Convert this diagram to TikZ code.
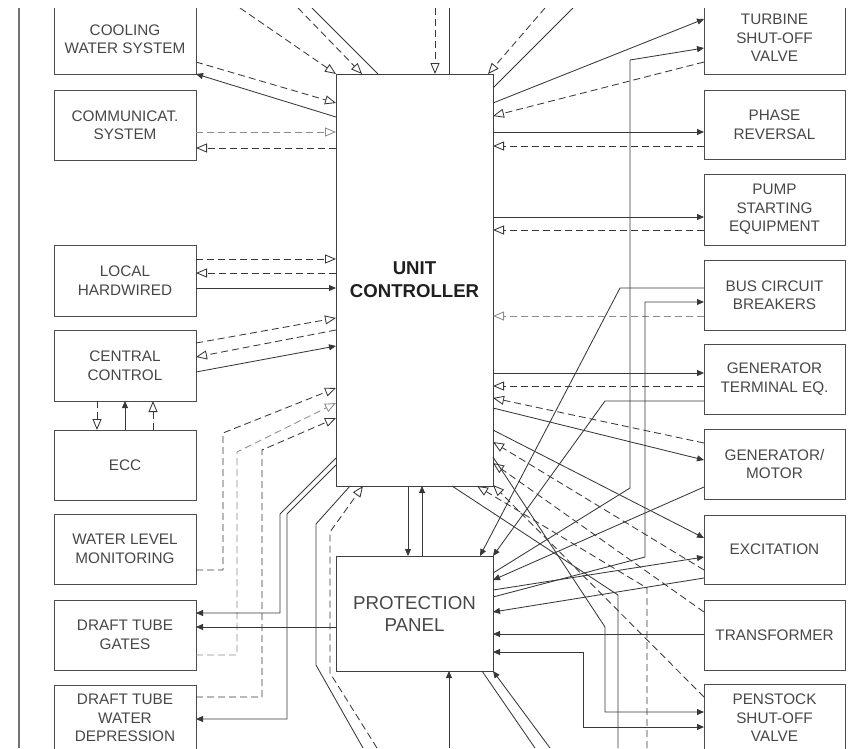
\documentclass[tikz,border=0pt]{standalone}
\usepackage{fontspec}
\setmainfont{Liberation Sans}
\usetikzlibrary{arrows.meta}
\newcommand\lblfont{\fontsize{15.3}{18.5}\selectfont}
\newcommand\bigfont{\fontsize{18.7}{22}\selectfont}
\begin{document}
\begin{tikzpicture}[x=1pt,y=-1pt,
  bx/.style={draw=black!70, line width=0.9pt, minimum width=142pt, minimum height=70pt, inner sep=0pt, outer sep=0pt, align=center, font=\lblfont, text=black!72},
  rbx/.style={bx, minimum width=141pt},
  sol/.style={draw=black!78, line width=0.85pt},
  dsh/.style={draw=black!78, line width=0.85pt, dash pattern=on 7pt off 4pt},
  dshg/.style={dsh, draw=black!45},
  fa/.style={-{Triangle[length=7pt,width=6pt]}},
  oa/.style={-{Triangle[open,length=11pt,width=9pt,fill=white]}},
  fafa/.style={{Triangle[length=7pt,width=6pt]}-{Triangle[length=7pt,width=6pt]}}]
\useasboundingbox (0,0) rectangle (848,748);
\clip (0,8) rectangle (848,748);
\draw[black!55, line width=1.2pt] (19,8) -- (19,748);
% left boxes
\node[bx] (cw) at (125,39) {COOLING\\WATER SYSTEM};
\node[bx] (comm) at (125,125) {COMMUNICAT.\\SYSTEM};
\node[bx, minimum height=71pt] (lh) at (125,280.5) {LOCAL\\HARDWIRED};
\node[bx, minimum height=71pt] (cc) at (125,365.5) {CENTRAL\\CONTROL};
\node[bx] (ecc) at (125,465) {ECC};
\node[bx] (wlm) at (125,549) {WATER LEVEL\\MONITORING};
\node[bx] (dtg) at (125,635) {DRAFT TUBE\\GATES};
\node[bx, minimum height=66pt] (dtwd) at (125,718) {DRAFT TUBE\\WATER\\DEPRESSION};
% right boxes
\node[rbx, minimum height=72pt] (tsv) at (774.5,38) {TURBINE\\SHUT-OFF\\VALVE};
\node[rbx, minimum height=69pt] (pr) at (774.5,124.5) {PHASE\\REVERSAL};
\node[rbx, minimum height=71pt] (pse) at (774.5,209.5) {PUMP\\STARTING\\EQUIPMENT};
\node[rbx] (bcb) at (774.5,295) {BUS CIRCUIT\\BREAKERS};
\node[rbx] (gte) at (774.5,379) {GENERATOR\\TERMINAL EQ.};
\node[rbx] (gm) at (774.5,464) {GENERATOR/\\MOTOR};
\node[rbx, minimum height=69pt] (exc) at (774.5,549.5) {EXCITATION};
\node[rbx] (trans) at (774.5,635) {TRANSFORMER};
\node[rbx, minimum height=68pt] (ps) at (774.5,718) {PENSTOCK\\SHUT-OFF\\VALVE};
% centre
\node[draw=black!75, line width=0.9pt, minimum width=157pt, minimum height=412pt, inner sep=0pt, outer sep=0pt, align=center, font=\fontsize{18.6}{23}\selectfont\bfseries, text=black!88] (uc) at (414.5,280) {UNIT\\CONTROLLER};
\node[draw=black!75, line width=0.9pt, minimum width=157pt, minimum height=115pt, inner sep=0pt, outer sep=0pt, align=center, font=\bigfont, text=black!72] (pp) at (414.5,613.5) {PROTECTION\\PANEL};
% free ends
\coordinate (t1) at (240,8);
\coordinate (t2) at (298,8);
\coordinate (t3) at (312,8);
\coordinate (t4) at (435,8);
\coordinate (t5) at (449,8);
\coordinate (t6) at (545,8);
\coordinate (t7) at (573,8);
\coordinate (b1) at (363,748);
\coordinate (b2) at (377,748);
\coordinate (b3) at (449,748);
\coordinate (b4) at (535,748);
\coordinate (b5) at (550,748);
\coordinate (b6) at (618,748);
\coordinate (b7) at (647,748);
% top
\draw[dsh,oa] (t1) -- (uc.north west);
\draw[dsh,oa] (t2) -- (362,0 |- uc.north);
\draw[sol] (t3) -- (378,0 |- uc.north);
\draw[dsh,oa] (t4) -- (435,0 |- uc.north);
\draw[sol] (t5) -- (449,0 |- uc.north);
\draw[dsh,oa] (t6) -- (488,0 |- uc.north);
\draw[sol] (t7) -- (uc.east |- 0,88);
% left side
\draw[dsh,oa] (cw.east |- 0,62) -- (uc.west |- 0,103);
\draw[sol,fa] (uc.west |- 0,117) -- (cw.south east);
\draw[dshg,oa] (comm.east |- 0,132) -- (uc.west |- 0,132);
\draw[dsh,oa] (uc.west |- 0,148) -- (comm.east |- 0,148);
\draw[dsh,oa] (lh.east |- 0,259) -- (uc.west |- 0,259);
\draw[dsh,oa] (uc.west |- 0,273) -- (lh.east |- 0,273);
\draw[sol,fa] (lh.east |- 0,288) -- (uc.west |- 0,288);
\draw[dsh,oa] (cc.east |- 0,343) -- (uc.west |- 0,318);
\draw[dsh,oa] (uc.west |- 0,330) -- (cc.east |- 0,357);
\draw[sol,fa] (cc.east |- 0,372) -- (uc.west |- 0,346);
\draw[dsh,oa] (97,0 |- cc.south) -- (97,0 |- ecc.north);
\draw[sol,fa] (125,0 |- ecc.north) -- (125,0 |- cc.south);
\draw[dsh,oa] (153,0 |- ecc.north) -- (153,0 |- cc.south);
\draw[dsh,oa] (wlm.east |- 0,570) -- (223,570) -- (223,433) -- (uc.west |- 0,388);
\draw[dshg,oa] (dtg.east |- 0,655) -- (237,655) -- (237,452) -- (uc.west |- 0,403);
\draw[dsh,oa] (dtwd.east |- 0,697) -- (262,697) -- (262,450) -- (uc.west |- 0,418);
\draw[sol,fa] (uc.west |- 0,458) -- (280,514) -- (280,613) -- (dtg.east |- 0,613);
\draw[sol,fa] (uc.west |- 0,465) -- (287,514) -- (287,719) -- (dtwd.east |- 0,719);
\draw[sol,fa] (pp.west |- 0,627) -- (dtg.east |- 0,627);
% bottom of UC / PP
\draw[sol] (350,0 |- uc.south) -- (316,524) -- (316,665) -- (b1);
\draw[dsh,oa] (b2) -- (330,673) -- (330,532) -- (363,0 |- uc.south);
\draw[sol,fa] (408,0 |- uc.south) -- (408,0 |- pp.north);
\draw[sol,fa] (422,0 |- pp.north) -- (422,0 |- uc.south);
\draw[sol,fa] (b3) -- (449,0 |- pp.south);
\draw[sol] (482,0 |- pp.south) -- (b4);
\draw[sol,fa] (b5) -- (pp.south east);
% right side
\draw[sol,fa] (uc.east |- 0,103) -- (tsv.west |- 0,19);
\draw[sol,fa] (pp.east |- 0,573) -- (630,488) -- (630,60) -- (tsv.west |- 0,48);
\draw[dsh,oa] (tsv.west |- 0,62) -- (uc.east |- 0,116);
\draw[sol,fa] (uc.east |- 0,132) -- (pr.west |- 0,132);
\draw[dsh,oa] (pr.west |- 0,146) -- (uc.east |- 0,146);
\draw[sol,fa] (uc.east |- 0,217) -- (pse.west |- 0,217);
\draw[dsh,oa] (pse.west |- 0,230) -- (uc.east |- 0,230);
\draw[dshg,oa] (bcb.west |- 0,316) -- (uc.east |- 0,316);
\draw[sol,fa] (bcb.west |- 0,288) -- (620,288) -- (480,0 |- pp.north);
\draw[sol,fa] (pp.east |- 0,597) -- (645,557) -- (645,302) -- (bcb.west |- 0,302);
\draw[sol,fa] (uc.east |- 0,373) -- (gte.west |- 0,373);
\draw[dsh,oa] (gte.west |- 0,386) -- (uc.east |- 0,386);
\draw[sol,fa] (gte.west |- 0,401) -- (605,401) -- (pp.north east);
\draw[dsh,oa] (gm.west |- 0,443) -- (uc.east |- 0,398);
\draw[sol,fa] (uc.east |- 0,408) -- (gm.west |- 0,460);
\draw[sol,fa] (gm.west |- 0,487) -- (pp.east |- 0,580);
\draw[sol,fa] (uc.east |- 0,430) -- (exc.west |- 0,538);
\draw[sol,fa] (pp.east |- 0,590) -- (exc.west |- 0,557);
\draw[dsh,oa] (exc.west |- 0,570) -- (uc.east |- 0,442);
\draw[sol,fa] (exc.west |- 0,578) -- (pp.east |- 0,612);
\draw[dsh,oa] (trans.west |- 0,612) -- (uc.east |- 0,463);
\draw[sol,fa] (trans.west |- 0,634) -- (pp.east |- 0,634);
\draw[dsh,oa] (ps.west |- 0,697) -- (uc.east |- 0,485);
\draw[sol,fa] (uc.east |- 0,457) -- (605,627) -- (605,712) -- (ps.west |- 0,712);
\draw[sol,fafa] (ps.west |- 0,727) -- (583,727) -- (583,652) -- (pp.east |- 0,652);
\draw[sol] (452,0 |- uc.south) -- (618,595) -- (b6);
\draw[dsh,oa] (b7) -- (647,588) -- (477,0 |- uc.south);
\end{tikzpicture}
\end{document}
